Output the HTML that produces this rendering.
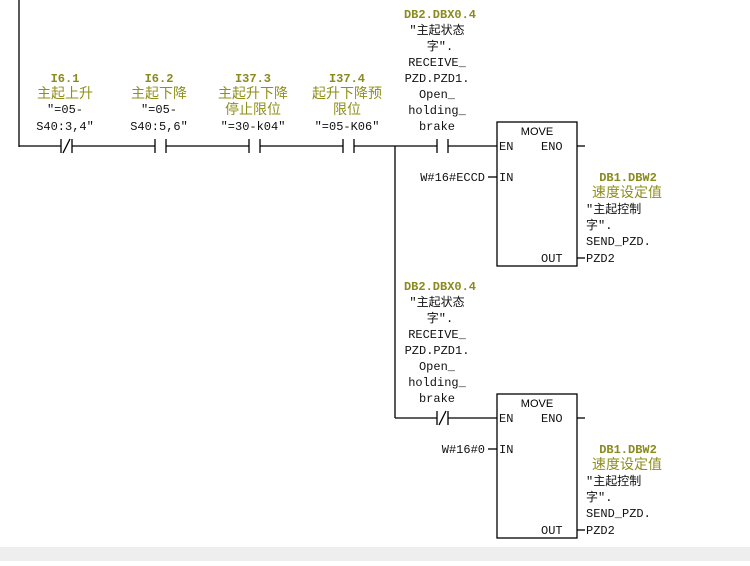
<!DOCTYPE html>
<html><head><meta charset="utf-8"><style>
html,body{margin:0;padding:0;background:#fff;}
svg text{font-family:"Liberation Mono","Noto Sans CJK SC",monospace;font-size:12px;}
.a{fill:#8a8a1e;font-weight:bold;font-size:12px;}
.n{fill:#8f8f1a;font-size:14px !important;font-family:"Liberation Sans","Noto Sans CJK SC",sans-serif !important;}
.k{fill:#111;}
.s{font-family:"Liberation Sans",sans-serif !important;font-size:11px !important;}
</style></head><body>
<svg width="750" height="561" xmlns="http://www.w3.org/2000/svg">
<rect x="0" y="547" width="750" height="14" fill="#eeeeee"/>
<g stroke="#000" stroke-width="1.3" fill="none">
<line x1="19" y1="0" x2="19" y2="147"/>
<line x1="19" y1="146" x2="61" y2="146"/><line x1="72" y1="146" x2="155" y2="146"/>
<line x1="166" y1="146" x2="249" y2="146"/><line x1="260" y1="146" x2="343" y2="146"/>
<line x1="354" y1="146" x2="437" y2="146"/><line x1="448" y1="146" x2="497" y2="146"/>
<line x1="61" y1="139" x2="61" y2="153"/><line x1="72" y1="139" x2="72" y2="153"/><line x1="63" y1="153" x2="70" y2="139"/>
<line x1="155" y1="139" x2="155" y2="153"/><line x1="166" y1="139" x2="166" y2="153"/>
<line x1="249" y1="139" x2="249" y2="153"/><line x1="260" y1="139" x2="260" y2="153"/>
<line x1="343" y1="139" x2="343" y2="153"/><line x1="354" y1="139" x2="354" y2="153"/>
<line x1="437" y1="139" x2="437" y2="153"/><line x1="448" y1="139" x2="448" y2="153"/>
<line x1="395" y1="146" x2="395" y2="418"/>
<line x1="395" y1="418" x2="437" y2="418"/><line x1="448" y1="418" x2="497" y2="418"/>
<line x1="437" y1="411" x2="437" y2="425"/><line x1="448" y1="411" x2="448" y2="425"/><line x1="439" y1="425" x2="446" y2="411"/>
<rect x="497" y="122" width="80" height="144"/>
<rect x="497" y="394" width="80" height="144"/>
<line x1="577" y1="146" x2="585" y2="146"/><line x1="577" y1="418" x2="585" y2="418"/>
<line x1="488" y1="177" x2="497" y2="177"/><line x1="488" y1="449" x2="497" y2="449"/>
<line x1="577" y1="258" x2="585" y2="258"/><line x1="577" y1="530" x2="585" y2="530"/>
</g>
<g text-anchor="middle">
<text class="a" x="65" y="82">I6.1</text><text class="n" x="65" y="98">主起上升</text>
<text class="k" x="65" y="113">″=05-</text><text class="k" x="65" y="130">S40:3,4″</text>
<text class="a" x="159" y="82">I6.2</text><text class="n" x="159" y="98">主起下降</text>
<text class="k" x="159" y="113">″=05-</text><text class="k" x="159" y="130">S40:5,6″</text>
<text class="a" x="253" y="82">I37.3</text><text class="n" x="253" y="98">主起升下降</text>
<text class="n" x="253" y="114">停止限位</text><text class="k" x="253" y="130">″=30-k04″</text>
<text class="a" x="347" y="82">I37.4</text><text class="n" x="347" y="98">起升下降预</text>
<text class="n" x="347" y="114">限位</text><text class="k" x="347" y="130">″=05-K06″</text>
</g>
<g text-anchor="middle">
<text class="a" x="440" y="18">DB2.DBX0.4</text>
<text class="k" x="437" y="34">″主起状态</text>
<text class="k" x="440" y="50">字″.</text>
<text class="k" x="437" y="66">RECEIVE_</text>
<text class="k" x="437" y="82">PZD.PZD1.</text>
<text class="k" x="437" y="98">Open_</text>
<text class="k" x="437" y="114">holding_</text>
<text class="k" x="437" y="130">brake</text>
</g>
<g text-anchor="middle" transform="translate(0,272)">
<text class="a" x="440" y="18">DB2.DBX0.4</text>
<text class="k" x="437" y="34">″主起状态</text>
<text class="k" x="440" y="50">字″.</text>
<text class="k" x="437" y="66">RECEIVE_</text>
<text class="k" x="437" y="82">PZD.PZD1.</text>
<text class="k" x="437" y="98">Open_</text>
<text class="k" x="437" y="114">holding_</text>
<text class="k" x="437" y="130">brake</text>
</g>
<g>
<text class="s" x="537" y="135" text-anchor="middle">MOVE</text>
<text class="k" x="499" y="150">EN</text><text class="k" x="541" y="150">ENO</text>
<text class="k" x="499" y="181">IN</text><text class="k" x="541" y="262">OUT</text>
<text class="k" x="485" y="181" text-anchor="end">W#16#ECCD</text>
<text class="a" x="628" y="181" text-anchor="middle">DB1.DBW2</text>
<text class="n" x="627" y="197" text-anchor="middle">速度设定值</text>
<text class="k" x="586" y="213">″主起控制</text>
<text class="k" x="586" y="229">字″.</text>
<text class="k" x="586" y="245">SEND_PZD.</text>
<text class="k" x="586" y="262">PZD2</text>
</g>
<g transform="translate(0,272)">
<text class="s" x="537" y="135" text-anchor="middle">MOVE</text>
<text class="k" x="499" y="150">EN</text><text class="k" x="541" y="150">ENO</text>
<text class="k" x="499" y="181">IN</text><text class="k" x="541" y="262">OUT</text>
<text class="k" x="485" y="181" text-anchor="end">W#16#0</text>
<text class="a" x="628" y="181" text-anchor="middle">DB1.DBW2</text>
<text class="n" x="627" y="197" text-anchor="middle">速度设定值</text>
<text class="k" x="586" y="213">″主起控制</text>
<text class="k" x="586" y="229">字″.</text>
<text class="k" x="586" y="245">SEND_PZD.</text>
<text class="k" x="586" y="262">PZD2</text>
</g>
</svg>
</body></html>
